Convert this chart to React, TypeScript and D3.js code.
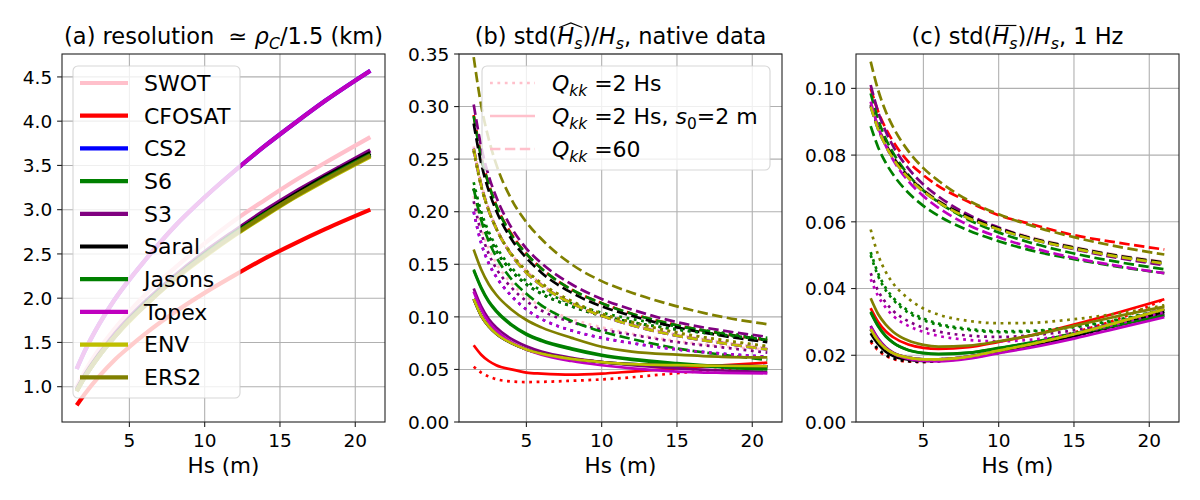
import React, { useEffect, useRef } from 'react';
import * as d3 from 'd3';

// Hs grid (m) for each panel
const hsRes = [1.5, 2, 3, 4, 5, 6, 8, 10, 12, 14, 16, 18, 21];
const hsStd = [1.5, 2, 2.5, 3, 4, 5, 6, 8, 10, 12, 15, 18, 21];

const satNames = ['SWOT', 'CFOSAT', 'CS2', 'S6', 'S3', 'Saral', 'Jasons', 'Topex', 'ENV', 'ERS2'];
const satColors = ['pink', 'red', 'blue', 'green', 'purple', 'black', 'green', '#bf00bf', '#bfbf00', 'olive'];

// (a) resolution ~ rho_C / 1.5 (km)
const resolution = [
  [1.00, 1.16, 1.43, 1.65, 1.85, 2.03, 2.34, 2.62, 2.88, 3.11, 3.33, 3.53, 3.82],
  [0.79, 0.91, 1.12, 1.30, 1.45, 1.59, 1.84, 2.06, 2.26, 2.45, 2.62, 2.78, 3.00],
  [1.20, 1.39, 1.71, 1.98, 2.21, 2.42, 2.81, 3.14, 3.44, 3.72, 3.98, 4.23, 4.57],
  [0.95, 1.10, 1.35, 1.56, 1.75, 1.92, 2.22, 2.49, 2.73, 2.95, 3.15, 3.35, 3.62],
  [0.97, 1.12, 1.37, 1.59, 1.78, 1.95, 2.25, 2.52, 2.76, 2.99, 3.20, 3.39, 3.67],
  [0.96, 1.11, 1.36, 1.57, 1.76, 1.93, 2.23, 2.50, 2.74, 2.96, 3.17, 3.37, 3.64],
  [0.95, 1.10, 1.35, 1.56, 1.75, 1.92, 2.22, 2.49, 2.73, 2.95, 3.15, 3.35, 3.62],
  [1.20, 1.39, 1.71, 1.98, 2.21, 2.42, 2.81, 3.14, 3.44, 3.72, 3.98, 4.23, 4.57],
  [0.95, 1.10, 1.35, 1.56, 1.74, 1.91, 2.21, 2.47, 2.71, 2.93, 3.14, 3.33, 3.60],
  [0.95, 1.10, 1.35, 1.56, 1.75, 1.91, 2.22, 2.48, 2.72, 2.94, 3.15, 3.34, 3.61],
];

// (b) native data: Qkk = 2 Hs (dotted)
const nativeDotted = [
  [0.215, 0.185, 0.165, 0.151, 0.132, 0.119, 0.110, 0.098, 0.090, 0.084, 0.077, 0.072, 0.069],
  [0.0526, 0.047, 0.0432, 0.0407, 0.0386, 0.038, 0.0382, 0.0392, 0.0405, 0.0425, 0.0465, 0.050, 0.053],
  [0.200, 0.170, 0.151, 0.138, 0.120, 0.107, 0.098, 0.087, 0.080, 0.075, 0.069, 0.065, 0.062],
  [0.228, 0.200, 0.181, 0.167, 0.147, 0.134, 0.125, 0.113, 0.104, 0.098, 0.091, 0.085, 0.080],
  [0.210, 0.180, 0.160, 0.146, 0.128, 0.115, 0.106, 0.095, 0.088, 0.083, 0.076, 0.071, 0.066],
  [0.222, 0.195, 0.177, 0.163, 0.144, 0.131, 0.122, 0.110, 0.101, 0.095, 0.088, 0.083, 0.078],
  [0.222, 0.195, 0.177, 0.163, 0.144, 0.131, 0.122, 0.110, 0.101, 0.095, 0.088, 0.083, 0.078],
  [0.200, 0.170, 0.151, 0.138, 0.120, 0.107, 0.098, 0.087, 0.080, 0.075, 0.069, 0.065, 0.062],
  [0.258, 0.224, 0.201, 0.184, 0.160, 0.144, 0.132, 0.115, 0.103, 0.095, 0.085, 0.078, 0.072],
  [0.258, 0.224, 0.201, 0.184, 0.160, 0.144, 0.132, 0.115, 0.103, 0.095, 0.085, 0.078, 0.072],
];
// (b) Qkk = 2 Hs, s0 = 2 m (solid)
const nativeSolid = [
  [0.117, 0.101, 0.091, 0.084, 0.075, 0.069, 0.065, 0.060, 0.057, 0.055, 0.054, 0.0535, 0.053],
  [0.073, 0.064, 0.058, 0.054, 0.050, 0.047, 0.046, 0.045, 0.046, 0.048, 0.051, 0.054, 0.0564],
  [0.117, 0.101, 0.091, 0.084, 0.075, 0.069, 0.065, 0.060, 0.057, 0.055, 0.054, 0.0535, 0.053],
  [0.145, 0.128, 0.115, 0.106, 0.093, 0.084, 0.078, 0.070, 0.064, 0.060, 0.056, 0.053, 0.051],
  [0.127, 0.110, 0.098, 0.090, 0.079, 0.072, 0.067, 0.061, 0.057, 0.054, 0.051, 0.049, 0.0475],
  [0.117, 0.101, 0.091, 0.084, 0.075, 0.069, 0.065, 0.060, 0.057, 0.055, 0.054, 0.0535, 0.053],
  [0.144, 0.127, 0.114, 0.105, 0.092, 0.083, 0.077, 0.069, 0.063, 0.059, 0.055, 0.052, 0.050],
  [0.124, 0.107, 0.095, 0.087, 0.076, 0.069, 0.064, 0.058, 0.054, 0.051, 0.048, 0.0468, 0.0463],
  [0.117, 0.101, 0.091, 0.084, 0.075, 0.069, 0.065, 0.060, 0.057, 0.055, 0.054, 0.0535, 0.053],
  [0.164, 0.145, 0.131, 0.121, 0.107, 0.097, 0.090, 0.080, 0.0716, 0.067, 0.064, 0.062, 0.0615],
];
// (b) Qkk = 60 (dashed)
const nativeDashed = [
  [0.262, 0.227, 0.203, 0.185, 0.160, 0.144, 0.131, 0.113, 0.101, 0.093, 0.083, 0.076, 0.070],
  [0.292, 0.253, 0.226, 0.206, 0.179, 0.160, 0.146, 0.126, 0.113, 0.103, 0.092, 0.084, 0.078],
  [0.260, 0.225, 0.201, 0.184, 0.159, 0.142, 0.130, 0.113, 0.101, 0.092, 0.082, 0.075, 0.069],
  [0.291, 0.252, 0.226, 0.206, 0.178, 0.160, 0.146, 0.126, 0.113, 0.103, 0.092, 0.084, 0.078],
  [0.302, 0.262, 0.234, 0.214, 0.185, 0.165, 0.151, 0.131, 0.117, 0.107, 0.095, 0.087, 0.081],
  [0.284, 0.246, 0.220, 0.201, 0.174, 0.156, 0.142, 0.123, 0.110, 0.101, 0.090, 0.082, 0.076],
  [0.222, 0.192, 0.172, 0.157, 0.136, 0.122, 0.111, 0.096, 0.086, 0.079, 0.070, 0.064, 0.059],
  [0.260, 0.225, 0.201, 0.184, 0.159, 0.142, 0.130, 0.113, 0.101, 0.092, 0.082, 0.075, 0.069],
  [0.260, 0.225, 0.201, 0.184, 0.159, 0.142, 0.130, 0.113, 0.101, 0.092, 0.082, 0.075, 0.069],
  [0.347, 0.301, 0.269, 0.245, 0.212, 0.190, 0.174, 0.150, 0.134, 0.123, 0.110, 0.100, 0.093],
];

// (c) 1 Hz: dotted
const hzDotted = [
  [0.0278, 0.0243, 0.0220, 0.0206, 0.0193, 0.0188, 0.0188, 0.0196, 0.0214, 0.0232, 0.0263, 0.0300, 0.0338],
  [0.0240, 0.0214, 0.0198, 0.0189, 0.0181, 0.0180, 0.0183, 0.0195, 0.0213, 0.0234, 0.0268, 0.0310, 0.0368],
  [0.0278, 0.0243, 0.0220, 0.0206, 0.0193, 0.0188, 0.0188, 0.0196, 0.0214, 0.0232, 0.0263, 0.0300, 0.0338],
  [0.0509, 0.0445, 0.0402, 0.0372, 0.0333, 0.0310, 0.0295, 0.0279, 0.0272, 0.0273, 0.0286, 0.0308, 0.0338],
  [0.0446, 0.0393, 0.0358, 0.0333, 0.0302, 0.0283, 0.0271, 0.0259, 0.0255, 0.0259, 0.0275, 0.0302, 0.0340],
  [0.0245, 0.0218, 0.0201, 0.0191, 0.0182, 0.0180, 0.0182, 0.0192, 0.0207, 0.0226, 0.0256, 0.0290, 0.0330],
  [0.0500, 0.0437, 0.0395, 0.0366, 0.0328, 0.0305, 0.0291, 0.0276, 0.0269, 0.0271, 0.0284, 0.0306, 0.0336],
  [0.0428, 0.0377, 0.0343, 0.0318, 0.0288, 0.0270, 0.0258, 0.0246, 0.0242, 0.0246, 0.0265, 0.0295, 0.0330],
  [0.0278, 0.0243, 0.0220, 0.0206, 0.0193, 0.0188, 0.0188, 0.0196, 0.0214, 0.0232, 0.0263, 0.0300, 0.0338],
  [0.0577, 0.0500, 0.0450, 0.0415, 0.0370, 0.0340, 0.0322, 0.0303, 0.0296, 0.0297, 0.0308, 0.0326, 0.0350],
];
// (c) solid
const hzSolid = [
  [0.0278, 0.0243, 0.0220, 0.0206, 0.0193, 0.0188, 0.0188, 0.0196, 0.0214, 0.0232, 0.0263, 0.0300, 0.0338],
  [0.0341, 0.0300, 0.0272, 0.0254, 0.0232, 0.0222, 0.0219, 0.0224, 0.0240, 0.0258, 0.0292, 0.0329, 0.0368],
  [0.0278, 0.0243, 0.0220, 0.0206, 0.0193, 0.0188, 0.0188, 0.0196, 0.0214, 0.0232, 0.0263, 0.0300, 0.0338],
  [0.0331, 0.0288, 0.0258, 0.0238, 0.0216, 0.0207, 0.0204, 0.0208, 0.0222, 0.0237, 0.0266, 0.0293, 0.0321],
  [0.0288, 0.0250, 0.0224, 0.0208, 0.0193, 0.0188, 0.0188, 0.0196, 0.0212, 0.0229, 0.0258, 0.0290, 0.0325],
  [0.0266, 0.0233, 0.0211, 0.0198, 0.0187, 0.0183, 0.0184, 0.0193, 0.0210, 0.0228, 0.0258, 0.0294, 0.0331],
  [0.0328, 0.0286, 0.0256, 0.0237, 0.0215, 0.0206, 0.0203, 0.0207, 0.0221, 0.0236, 0.0264, 0.0291, 0.0319],
  [0.0285, 0.0247, 0.0221, 0.0205, 0.0189, 0.0183, 0.0182, 0.0190, 0.0206, 0.0222, 0.0250, 0.0282, 0.0314],
  [0.0278, 0.0243, 0.0220, 0.0206, 0.0193, 0.0188, 0.0188, 0.0196, 0.0214, 0.0232, 0.0263, 0.0300, 0.0338],
  [0.0371, 0.0323, 0.0292, 0.0270, 0.0244, 0.0231, 0.0226, 0.0229, 0.0242, 0.0258, 0.0288, 0.0318, 0.0346],
];
// (c) dashed
const hzDashed = [
  [0.0955, 0.0886, 0.0837, 0.0797, 0.0740, 0.0698, 0.0666, 0.0618, 0.0583, 0.0556, 0.0525, 0.0500, 0.0480],
  [0.100, 0.093, 0.088, 0.084, 0.078, 0.074, 0.0707, 0.066, 0.062, 0.0595, 0.056, 0.0537, 0.0517],
  [0.0945, 0.0877, 0.0828, 0.0789, 0.0732, 0.0691, 0.0659, 0.0611, 0.0577, 0.0550, 0.0520, 0.0495, 0.0475],
  [0.0985, 0.0906, 0.0849, 0.0806, 0.0741, 0.0694, 0.0659, 0.0606, 0.0568, 0.0539, 0.0505, 0.0479, 0.0458],
  [0.101, 0.0929, 0.0871, 0.0826, 0.0760, 0.0712, 0.0676, 0.0621, 0.0583, 0.0552, 0.0518, 0.0491, 0.0470],
  [0.0950, 0.0882, 0.0832, 0.0793, 0.0736, 0.0694, 0.0662, 0.0615, 0.0580, 0.0553, 0.0523, 0.0498, 0.0478],
  [0.0887, 0.0823, 0.0777, 0.0741, 0.0687, 0.0648, 0.0618, 0.0574, 0.0542, 0.0516, 0.0488, 0.0465, 0.0446],
  [0.0960, 0.0883, 0.0828, 0.0785, 0.0722, 0.0677, 0.0642, 0.0590, 0.0554, 0.0525, 0.0492, 0.0467, 0.0446],
  [0.0945, 0.0877, 0.0828, 0.0789, 0.0732, 0.0691, 0.0659, 0.0611, 0.0577, 0.0550, 0.0520, 0.0495, 0.0475],
  [0.108, 0.0994, 0.0931, 0.0883, 0.0812, 0.0761, 0.0723, 0.0664, 0.0623, 0.0591, 0.0554, 0.0525, 0.0502],
];

const xTicks = [5, 10, 15, 20];
const resTicks = [1.0, 1.5, 2.0, 2.5, 3.0, 3.5, 4.0, 4.5];
const nativeTicks = [0, 0.05, 0.1, 0.15, 0.2, 0.25, 0.3, 0.35];
const hzTicks = [0, 0.02, 0.04, 0.06, 0.08, 0.1];

const FONT = '"DejaVu Sans", sans-serif';
const DOT = '2.8,4.6';
const DASH = '10.4,4.5';

type Part = { t: string; it?: boolean; sub?: boolean };

const rich = (parent: any, x: number, y: number, size: number, parts: Part[], anchor = 'middle') => {
  const t = parent.append('text')
    .attr('x', x).attr('y', y)
    .attr('font-family', FONT).attr('font-size', size)
    .attr('text-anchor', anchor)
    .attr('xml:space', 'preserve')
    .style('white-space', 'pre');
  let shift = 0;
  parts.forEach(p => {
    const target = p.sub ? size * 0.22 : 0;
    const ts = t.append('tspan').attr('dy', target - shift)
      .attr('font-size', p.sub ? size * 0.7 : size)
      .text(p.t);
    if (p.it) ts.attr('font-style', 'italic');
    shift = target;
  });
  return t;
};

const App = () => {
  const svgRef = useRef<SVGSVGElement>(null);

  useEffect(() => {
    const svg = d3.select(svgRef.current);
    svg.selectAll('*').remove();

    const top = 54, bottom = 422;
    const panels = [
      { left: 62, right: 385, yDomain: [0.601, 4.759], yTicks: resTicks, fmt: d3.format('.1f') },
      { left: 459, right: 782, yDomain: [0, 0.35], yTicks: nativeTicks, fmt: d3.format('.2f') },
      { left: 856, right: 1179, yDomain: [0, 0.1103], yTicks: hzTicks, fmt: d3.format('.2f') },
    ];

    const scales = panels.map(p => ({
      x: d3.scaleLinear().domain([0.525, 21.975]).range([p.left, p.right]),
      y: d3.scaleLinear().domain(p.yDomain).range([bottom, top]),
    }));

    // grid
    panels.forEach((p, k) => {
      const { x, y } = scales[k];
      const g = svg.append('g');
      g.selectAll('.gx').data(xTicks).join('line')
        .attr('x1', d => x(d)).attr('x2', d => x(d)).attr('y1', top).attr('y2', bottom)
        .attr('stroke', '#b0b0b0').attr('stroke-width', 1.1);
      g.selectAll('.gy').data(p.yTicks).join('line')
        .attr('x1', p.left).attr('x2', p.right).attr('y1', d => y(d)).attr('y2', d => y(d))
        .attr('stroke', '#b0b0b0').attr('stroke-width', 1.1);
    });

    // (a) resolution lines
    {
      const { x, y } = scales[0];
      const line = d3.line<number>().x((_, i) => x(hsRes[i])).y(d => y(d)).curve(d3.curveMonotoneX);
      svg.append('g').selectAll('path').data(resolution).join('path')
        .attr('d', d => line(d))
        .attr('fill', 'none')
        .attr('stroke', (_, i) => satColors[i])
        .attr('stroke-width', 4.2);
    }

    // (b) and (c): per satellite dotted, solid, dashed
    const drawStd = (k: number, dotted: number[][], solid: number[][], dashed: number[][]) => {
      const { x, y } = scales[k];
      const line = d3.line<number>().x((_, i) => x(hsStd[i])).y(d => y(d)).curve(d3.curveMonotoneX);
      const g = svg.append('g');
      satNames.forEach((_, i) => {
        [[dotted[i], DOT], [solid[i], null], [dashed[i], DASH]].forEach(([vals, dash]) => {
          g.append('path')
            .attr('d', line(vals as number[]))
            .attr('fill', 'none')
            .attr('stroke', satColors[i])
            .attr('stroke-width', 2.7)
            .attr('stroke-dasharray', dash as string | null);
        });
      });
    };
    drawStd(1, nativeDotted, nativeSolid, nativeDashed);
    drawStd(2, hzDotted, hzSolid, hzDashed);

    // spines, ticks, labels
    panels.forEach((p, k) => {
      const { x, y } = scales[k];
      const g = svg.append('g');
      g.append('rect')
        .attr('x', p.left).attr('y', top).attr('width', p.right - p.left).attr('height', bottom - top)
        .attr('fill', 'none').attr('stroke', '#222').attr('stroke-width', 1.1);
      g.selectAll('.tx').data(xTicks).join('line')
        .attr('x1', d => x(d)).attr('x2', d => x(d)).attr('y1', bottom).attr('y2', bottom + 4.9)
        .attr('stroke', '#222').attr('stroke-width', 1.1);
      g.selectAll('.lx').data(xTicks).join('text')
        .attr('x', d => x(d)).attr('y', bottom + 24.5)
        .attr('text-anchor', 'middle').attr('font-family', FONT).attr('font-size', 18.5)
        .text(d => String(d));
      g.selectAll('.ty').data(p.yTicks).join('line')
        .attr('x1', p.left - 4.9).attr('x2', p.left).attr('y1', d => y(d)).attr('y2', d => y(d))
        .attr('stroke', '#222').attr('stroke-width', 1.1);
      g.selectAll('.ly').data(p.yTicks).join('text')
        .attr('x', p.left - 9.8).attr('y', d => y(d) + 6.7)
        .attr('text-anchor', 'end').attr('font-family', FONT).attr('font-size', 18.5)
        .text(d => p.fmt(d));
      g.append('text')
        .attr('x', (p.left + p.right) / 2).attr('y', 473)
        .attr('text-anchor', 'middle').attr('font-family', FONT).attr('font-size', 21.5)
        .text('Hs (m)');
    });

    // titles
    const cx = panels.map(p => (p.left + p.right) / 2);
    const TS = 22.5;
    rich(svg, cx[0], 44, TS, [
      { t: '(a) resolution  \u2243 ' }, { t: '\u03c1', it: true }, { t: 'C', it: true, sub: true }, { t: '/1.5 (km)' },
    ]);
    const tB = rich(svg, cx[1], 44, TS, [
      { t: '(b) std(' }, { t: 'H', it: true }, { t: 's', it: true, sub: true }, { t: ')/' },
      { t: 'H', it: true }, { t: 's', it: true, sub: true }, { t: ', native data' },
    ]);
    const tC = rich(svg, cx[2], 44, TS, [
      { t: '(c) std(' }, { t: 'H', it: true }, { t: 's', it: true, sub: true }, { t: ')/' },
      { t: 'H', it: true }, { t: 's', it: true, sub: true }, { t: ', 1 Hz' },
    ]);
    try {
      const nb = tB.node() as SVGTextElement;
      const h = nb.getExtentOfChar(8), s = nb.getExtentOfChar(9);
      const x0 = h.x + 2, x1 = s.x + s.width;
      svg.append('path')
        .attr('d', `M${x0},27.5 L${(x0 + x1) / 2},23 L${x1},27.5`)
        .attr('fill', 'none').attr('stroke', '#000').attr('stroke-width', 1.2);
      const nc = tC.node() as SVGTextElement;
      const h2 = nc.getExtentOfChar(8), s2 = nc.getExtentOfChar(9);
      svg.append('line')
        .attr('x1', h2.x + 3).attr('x2', s2.x + s2.width - 1).attr('y1', 25.5).attr('y2', 25.5)
        .attr('stroke', '#000').attr('stroke-width', 1.2);
    } catch (e) { /* ignore */ }

    // legend (a)
    {
      const g = svg.append('g');
      g.append('rect').attr('x', 73).attr('y', 66).attr('width', 167).attr('height', 332)
        .attr('rx', 5).attr('fill', '#fff').attr('fill-opacity', 0.8)
        .attr('stroke', '#ccc').attr('stroke-opacity', 0.8).attr('stroke-width', 1.1);
      satNames.forEach((name, i) => {
        const cy = 83 + i * 32.7;
        g.append('line').attr('x1', 80).attr('x2', 128).attr('y1', cy).attr('y2', cy)
          .attr('stroke', satColors[i]).attr('stroke-width', 4.2);
        g.append('text').attr('x', 144).attr('y', cy + 7.8)
          .attr('font-family', FONT).attr('font-size', 22).text(name);
      });
    }

    // legend (b)
    {
      const g = svg.append('g');
      g.append('rect').attr('x', 482).attr('y', 66).attr('width', 288).attr('height', 104)
        .attr('rx', 5).attr('fill', '#fff').attr('fill-opacity', 0.8)
        .attr('stroke', '#ccc').attr('stroke-opacity', 0.8).attr('stroke-width', 1.1);
      const entries: { dash: string | null; parts: Part[] }[] = [
        { dash: DOT, parts: [{ t: 'Q', it: true }, { t: 'kk', it: true, sub: true }, { t: ' =2 Hs' }] },
        { dash: null, parts: [{ t: 'Q', it: true }, { t: 'kk', it: true, sub: true }, { t: ' =2 Hs, ' },
          { t: 's', it: true }, { t: '0', sub: true }, { t: '=2 m' }] },
        { dash: DASH, parts: [{ t: 'Q', it: true }, { t: 'kk', it: true, sub: true }, { t: ' =60' }] },
      ];
      entries.forEach((e, i) => {
        const cy = 83 + i * 33;
        g.append('line').attr('x1', 490).attr('x2', 535).attr('y1', cy).attr('y2', cy)
          .attr('stroke', satColors[0]).attr('stroke-width', 2.7)
          .attr('stroke-dasharray', e.dash);
        rich(g, 552, cy + 7.8, 22, e.parts, 'start');
      });
    }
  }, []);

  return (
    <svg ref={svgRef} width={1200} height={500}
      style={{ position: 'absolute', left: 0, top: 0, background: '#fff' }} />
  );
};

export default App;
